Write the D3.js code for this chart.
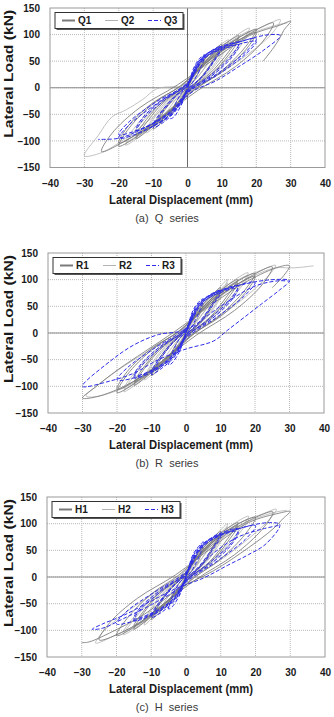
<!DOCTYPE html>
<html>
<head>
<meta charset="utf-8">
<script src="https://cdn.jsdelivr.net/npm/d3@7"></script>
<style>
  body { margin: 0; background: #fff; }
  svg { display: block; font-family: "Liberation Sans", Arial, sans-serif; }
</style>
</head>
<body>
<svg id="chart" width="334" height="717"></svg>
<script>
// axis ticks
const xTicks = [-40, -30, -20, -10, 0, 10, 20, 30, 40]
const yTicks = [-150, -100, -50, 0, 50, 100, 150]

const xTitle = "Lateral Displacement (mm)"
const yTitle = "Lateral Load (kN)"
const captions = ["(a)  Q  series", "(b)  R  series", "(c)  H  series"]
const legendNames = [["Q1", "Q2", "Q3"], ["R1", "R2", "R3"], ["H1", "H2", "H3"]]

// hysteresis curves: [displacement mm, load kN]
const q1 = [[0,0],[1,15],[2,28],[1,14],[0,2],[-1,-14],[-2,-27],[-1,-12],[0,0],
  [2,30],[4,48],[5,55],[4,38],[2,15],[0,-2],[-2,-28],[-4,-45],[-5,-52],[-4,-35],[-2,-14],[0,2],
  [3,38],[7,66],[10,82],[8,58],[5,28],[1,0],[-3,-32],[-7,-62],[-10,-78],[-8,-55],[-5,-28],[-1,0],
  [3,34],[7,60],[10,76],[8,54],[5,26],[1,-1],[-3,-30],[-7,-58],[-10,-72],[-8,-50],[-5,-24],[-1,1],
  [4,42],[10,78],[15,98],[12,68],[7,30],[1,-2],[-4,-38],[-10,-72],[-15,-96],[-12,-66],[-7,-28],[-1,2],
  [4,40],[10,72],[15,92],[12,62],[7,26],[1,-1],[-4,-36],[-10,-68],[-15,-90],[-12,-60],[-7,-25],[-1,2],
  [5,45],[12,82],[20,110],[17,78],[10,32],[2,-4],[-5,-42],[-12,-80],[-20,-110],[-17,-76],[-10,-30],[-2,4],
  [5,44],[12,78],[20,104],[17,72],[10,30],[2,-3],[-5,-40],[-12,-76],[-20,-104],[-17,-70],[-10,-28],[-2,3],
  [6,50],[15,90],[25,122],[22,88],[14,40],[3,-5],[-6,-48],[-15,-88],[-25,-120],[-22,-86],[-14,-38],[-3,5],
  [8,55],[18,98],[27,118],[30,125],[28,108],[27,95],[25,75],[22,50]]
const q2 = [[0,0],[2,25],[3,35],[2,20],[0,3],[-2,-22],[-3,-33],[-2,-18],[0,-2],
  [3,40],[6,60],[8,70],[6,48],[3,20],[0,0],[-3,-30],[-6,-55],[-8,-65],[-6,-45],[-3,-18],[0,2],
  [4,45],[9,78],[12,90],[10,65],[6,30],[1,2],[-4,-38],[-9,-70],[-12,-85],[-10,-60],[-6,-28],[-1,0],
  [4,42],[9,74],[12,86],[10,60],[6,27],[1,1],[-4,-36],[-9,-66],[-12,-80],[-10,-56],[-6,-25],[-1,0],
  [5,50],[12,88],[18,112],[15,80],[9,38],[2,0],[-5,-45],[-12,-82],[-18,-108],[-15,-78],[-9,-36],[-2,0],
  [5,48],[12,84],[18,106],[15,75],[9,34],[2,-1],[-5,-42],[-12,-78],[-18,-102],[-15,-72],[-9,-32],[-2,1],
  [6,55],[15,95],[22,115],[27,128],[25,105],[20,75],[12,38],[4,5],[-3,-20],[-10,-55],[-18,-95],[-25,-122],[-30,-128],
  [-26,-90],[-22,-55],[-18,-42],[-13,-22],[-9,-2],[-4,2],[0,3],
  [8,58],[18,100],[26,118],[29,122]]
const q3 = [[0,0],[1,20],[2,35],[1,15],[0,0],[-1,-20],[-2,-33],[-1,-15],[0,0],
  [2,40],[4,58],[5,62],[4,40],[2,15],[0,-5],[-2,-35],[-4,-55],[-5,-58],[-4,-38],[-2,-12],[0,5],
  [3,48],[7,70],[10,78],[8,55],[4,20],[0,-5],[-3,-40],[-7,-65],[-10,-75],[-8,-52],[-4,-20],[0,5],
  [3,45],[7,66],[10,74],[8,52],[4,18],[0,-4],[-3,-38],[-7,-62],[-10,-70],[-8,-48],[-4,-18],[0,4],
  [4,55],[10,78],[15,85],[13,62],[7,25],[0,-8],[-4,-45],[-10,-72],[-15,-85],[-13,-60],[-7,-25],[0,8],
  [4,52],[10,74],[15,80],[13,58],[7,22],[0,-6],[-4,-42],[-10,-68],[-15,-80],[-13,-56],[-7,-22],[0,6],
  [5,60],[13,82],[20,92],[17,68],[9,28],[0,-10],[-5,-50],[-13,-82],[-20,-95],[-17,-70],[-9,-30],[0,10],
  [5,56],[13,78],[20,87],[17,64],[9,25],[0,-8],[-5,-46],[-13,-76],[-20,-88],[-17,-64],[-9,-26],[0,8],
  [6,65],[16,88],[24,100],[27,98],[22,70],[15,40],[8,12],[2,-5],[-5,-45],[-14,-80],[-20,-95],[-26,-97]]

const r1 = [[0,0],[1,16],[2,30],[1,14],[0,0],[-1,-15],[-2,-28],[-1,-12],[0,2],
  [2,32],[4,50],[5,56],[4,36],[2,14],[0,-3],[-2,-28],[-4,-46],[-5,-52],[-4,-34],[-2,-12],[0,3],
  [3,38],[7,68],[10,85],[8,60],[5,28],[1,0],[-3,-32],[-7,-62],[-10,-80],[-8,-55],[-5,-27],[-1,0],
  [3,35],[7,62],[10,78],[8,55],[5,25],[1,-1],[-3,-30],[-7,-58],[-10,-74],[-8,-50],[-5,-24],[-1,1],
  [4,42],[10,80],[15,100],[12,70],[7,30],[1,-2],[-4,-38],[-10,-74],[-15,-98],[-12,-66],[-7,-28],[-1,2],
  [4,40],[10,74],[15,94],[12,64],[7,27],[1,-1],[-4,-35],[-10,-70],[-15,-92],[-12,-62],[-7,-25],[-1,2],
  [5,46],[12,85],[20,112],[17,80],[10,34],[2,-3],[-5,-44],[-12,-82],[-20,-112],[-17,-78],[-10,-32],[-2,4],
  [5,44],[12,80],[20,106],[17,74],[10,31],[2,-2],[-5,-42],[-12,-78],[-20,-106],[-17,-72],[-10,-29],[-2,3],
  [6,50],[15,92],[25,124],[22,90],[14,42],[3,-4],[-6,-48],[-15,-90],[-25,-118],[-30,-122],[-26,-100],[-20,-70],[-12,-35],[-3,4],
  [8,56],[18,98],[27,124],[30,126],[28,105],[25,85]]
const r2 = [[0,0],[2,24],[3,34],[2,20],[0,3],[-2,-22],[-3,-32],[-2,-18],[0,-2],
  [3,40],[6,60],[8,70],[6,48],[3,20],[0,0],[-3,-30],[-6,-55],[-8,-66],[-6,-45],[-3,-18],[0,2],
  [4,45],[9,80],[12,100],[10,70],[6,32],[1,2],[-4,-38],[-9,-72],[-12,-88],[-10,-62],[-6,-28],[-1,0],
  [4,42],[9,75],[12,94],[10,66],[6,29],[1,1],[-4,-35],[-9,-68],[-12,-84],[-10,-58],[-6,-25],[-1,0],
  [5,50],[12,90],[18,113],[15,82],[9,40],[2,0],[-5,-46],[-12,-84],[-18,-110],[-15,-80],[-9,-36],[-2,0],
  [5,48],[12,86],[18,108],[15,78],[9,36],[2,-1],[-5,-43],[-12,-80],[-18,-105],[-15,-75],[-9,-33],[-2,1],
  [6,55],[15,98],[22,118],[26,127],[24,108],[18,72],[10,32],[3,2],[-5,-42],[-13,-85],[-20,-108],[-27,-120],[-29,-118],
  [-25,-95],[-18,-62],[-10,-30],[-3,-2],[0,3],
  [8,58],[18,102],[26,122],[30,122],[33,123],[37,126]]
const r3 = [[0,0],[1,22],[2,38],[1,16],[0,2],[-1,-20],[-2,-35],[-1,-14],[0,0],
  [2,42],[4,60],[5,64],[4,42],[2,16],[0,-4],[-2,-36],[-4,-56],[-5,-60],[-4,-38],[-2,-12],[0,5],
  [3,50],[7,72],[10,80],[8,58],[4,22],[0,-5],[-3,-42],[-7,-66],[-10,-78],[-8,-54],[-4,-20],[0,6],
  [3,46],[7,68],[10,75],[8,54],[4,19],[0,-4],[-3,-40],[-7,-62],[-10,-72],[-8,-50],[-4,-18],[0,5],
  [4,56],[10,80],[15,88],[13,64],[7,28],[0,-8],[-4,-46],[-10,-74],[-15,-84],[-13,-62],[-7,-26],[0,8],
  [4,53],[10,76],[15,83],[13,60],[7,24],[0,-6],[-4,-43],[-10,-70],[-15,-80],[-13,-58],[-7,-23],[0,6],
  [5,62],[13,85],[20,95],[17,70],[9,30],[0,-10],[-5,-50],[-13,-80],[-20,-88],[-17,-65],[-9,-28],[0,10],
  [6,66],[16,90],[25,100],[30,98],[27,80],[22,55],[17,30],[12,5],[8,-15],[0,-30],[-8,-50],[-15,-75],[-22,-90],[-30,-100],
  [-22,-53],[-15,-22],[-8,-3],[0,6],[10,50],[20,88],[27,98],[30,97]]

const h1 = [[0,0],[1,16],[2,30],[1,14],[0,0],[-1,-15],[-2,-28],[-1,-12],[0,2],
  [2,32],[4,50],[5,56],[4,36],[2,14],[0,-3],[-2,-28],[-4,-46],[-5,-52],[-4,-34],[-2,-12],[0,3],
  [3,40],[7,68],[10,86],[8,60],[5,28],[1,0],[-3,-32],[-7,-62],[-10,-80],[-8,-55],[-5,-27],[-1,0],
  [3,36],[7,63],[10,80],[8,56],[5,25],[1,-1],[-3,-30],[-7,-58],[-10,-75],[-8,-51],[-5,-24],[-1,1],
  [4,44],[10,82],[15,102],[12,72],[7,30],[1,-2],[-4,-38],[-10,-74],[-15,-98],[-12,-66],[-7,-28],[-1,2],
  [4,41],[10,77],[15,96],[12,66],[7,27],[1,-1],[-4,-36],[-10,-70],[-15,-92],[-12,-62],[-7,-25],[-1,2],
  [5,48],[12,88],[20,112],[17,80],[10,34],[2,-3],[-5,-44],[-12,-82],[-20,-110],[-17,-78],[-10,-32],[-2,4],
  [6,52],[15,95],[25,122],[22,90],[14,42],[3,-4],[-6,-48],[-15,-92],[-25,-118],[-22,-86],[-14,-40],[-3,4],
  [8,58],[18,102],[27,120],[30,123],[28,110],[25,90],[18,55],[8,12],[-2,-22],[-12,-70],[-22,-105],[-28,-122],[-30,-123]]
const h2 = [[0,0],[2,24],[3,34],[2,20],[0,3],[-2,-22],[-3,-32],[-2,-18],[0,-2],
  [3,40],[6,62],[8,72],[6,50],[3,20],[0,0],[-3,-30],[-6,-55],[-8,-65],[-6,-45],[-3,-18],[0,2],
  [4,46],[9,82],[12,100],[10,72],[6,32],[1,2],[-4,-38],[-9,-72],[-12,-90],[-10,-62],[-6,-28],[-1,0],
  [4,43],[9,77],[12,94],[10,67],[6,29],[1,1],[-4,-35],[-9,-68],[-12,-85],[-10,-58],[-6,-25],[-1,0],
  [5,52],[12,92],[18,114],[15,84],[9,40],[2,0],[-5,-46],[-12,-84],[-18,-108],[-15,-80],[-9,-36],[-2,0],
  [5,49],[12,87],[18,108],[15,79],[9,36],[2,-1],[-5,-43],[-12,-80],[-18,-103],[-15,-75],[-9,-33],[-2,1],
  [6,56],[15,100],[22,118],[26,127],[24,108],[18,72],[10,32],[3,2],[-5,-42],[-13,-85],[-20,-108],[-26,-124],
  [-24,-104],[-18,-70],[-10,-34],[-3,-4],[0,2],
  [8,60],[18,104],[26,122],[29,125]]
const h3 = [[0,0],[1,22],[2,38],[1,16],[0,2],[-1,-20],[-2,-35],[-1,-14],[0,0],
  [2,42],[4,60],[5,66],[4,42],[2,16],[0,-4],[-2,-36],[-4,-56],[-5,-60],[-4,-38],[-2,-12],[0,5],
  [3,50],[7,72],[10,82],[8,58],[4,22],[0,-5],[-3,-42],[-7,-66],[-10,-76],[-8,-54],[-4,-20],[0,6],
  [3,46],[7,68],[10,77],[8,54],[4,19],[0,-4],[-3,-40],[-7,-62],[-10,-71],[-8,-50],[-4,-18],[0,5],
  [4,56],[10,82],[15,90],[13,64],[7,28],[0,-8],[-4,-46],[-10,-72],[-15,-82],[-13,-60],[-7,-26],[0,8],
  [4,53],[10,78],[15,85],[13,60],[7,24],[0,-6],[-4,-43],[-10,-68],[-15,-78],[-13,-56],[-7,-23],[0,6],
  [5,62],[13,86],[20,96],[17,70],[9,30],[0,-10],[-5,-50],[-13,-78],[-20,-88],[-17,-64],[-9,-28],[0,10],
  [6,66],[16,92],[24,102],[27,98],[23,62],[18,42],[12,22],[5,-2],[-3,-22],[-10,-45],[-18,-72],[-24,-88],[-27,-98],
  [-24,-96],[-18,-78],[-10,-52],[-3,-25],[2,5],[8,45],[15,75],[22,90],[27,97]]

var panels = [
  { left: 50, right: 325, top: 8, bottom: 167.5, zeroX: true, series: [q1, q2, q3] },
  { left: 48, right: 324, top: 253, bottom: 413, zeroX: false, series: [r1, r2, r3] },
  { left: 47, right: 325, top: 497, bottom: 657, zeroX: false, series: [h1, h2, h3] }
]

// line looks for specimen 1, 2, 3
var styles = [
  { stroke: "#7a7a7a", width: 0.85, dash: null, legendWidth: 2 },
  { stroke: "#b2b2b2", width: 0.8, dash: null, legendWidth: 1 },
  { stroke: "#2e2ee8", width: 1, dash: "4,2", legendWidth: 1.2 }
]
var drawOrder = [1, 0, 2]

var svg = d3.select("#chart")

panels.forEach((p, k) => {

  var xScale = d3.scaleLinear().domain([-40, 40]).range([p.left, p.right])
  var yScale = d3.scaleLinear().domain([-150, 150]).range([p.bottom, p.top])

  var g = svg.append("g")

  // dotted grid
  g.selectAll(".vgrid")
   .data(xTicks.slice(1, -1))
   .enter()
   .append("line")
   .attr("x1", d => xScale(d))
   .attr("x2", d => xScale(d))
   .attr("y1", p.top)
   .attr("y2", p.bottom)
   .attr("stroke", "#b8b8b8")
   .attr("stroke-dasharray", "1,1")

  g.selectAll(".hgrid")
   .data(yTicks.slice(1, -1))
   .enter()
   .append("line")
   .attr("x1", p.left)
   .attr("x2", p.right)
   .attr("y1", d => yScale(d))
   .attr("y2", d => yScale(d))
   .attr("stroke", "#b8b8b8")
   .attr("stroke-dasharray", "1,1")

  // zero lines
  g.append("line")
   .attr("x1", p.left).attr("x2", p.right)
   .attr("y1", yScale(0)).attr("y2", yScale(0))
   .attr("stroke", "#8c8c8c")
  if (p.zeroX) {
    g.append("line")
     .attr("x1", xScale(0)).attr("x2", xScale(0))
     .attr("y1", p.top).attr("y2", p.bottom)
     .attr("stroke", "#6a6a6a")
  }

  var lineGen = d3.line()
                  .x(d => xScale(d[0]))
                  .y(d => yScale(d[1]))
                  .curve(d3.curveCatmullRom.alpha(0.5))

  drawOrder.forEach(i => {
    g.append("path")
     .datum(p.series[i])
     .attr("d", lineGen)
     .attr("fill", "none")
     .attr("stroke", styles[i].stroke)
     .attr("stroke-width", styles[i].width)
     .attr("stroke-dasharray", styles[i].dash)
  })

  // plot border
  g.append("rect")
   .attr("x", p.left).attr("y", p.top)
   .attr("width", p.right - p.left)
   .attr("height", p.bottom - p.top)
   .attr("fill", "none")
   .attr("stroke", "#9a9a9a")

  // axes (labels only)
  var xAxis = g.append("g")
               .attr("transform", `translate(0, ${p.bottom})`)
               .call(d3.axisBottom(xScale).tickValues(xTicks).tickSize(0).tickPadding(12))
  var yAxis = g.append("g")
               .attr("transform", `translate(${p.left}, 0)`)
               .call(d3.axisLeft(yScale).tickValues(yTicks).tickSize(0).tickPadding(10))
  ;[xAxis, yAxis].forEach(a => {
    a.select(".domain").remove()
    a.selectAll("text")
     .attr("fill", "#1a1a1a")
     .style("font-size", "10px")
     .style("font-weight", "bold")
     .style("font-family", "'Liberation Sans', Arial, sans-serif")
  })

  g.append("text")
   .attr("x", 181)
   .attr("y", p.bottom + 36)
   .attr("text-anchor", "middle")
   .attr("textLength", 144)
   .attr("lengthAdjust", "spacingAndGlyphs")
   .attr("fill", "#1a1a1a")
   .style("font-size", "12px")
   .style("font-weight", "bold")
   .text(xTitle)

  var yMid = (p.top + p.bottom) / 2 - 14
  g.append("text")
   .attr("transform", `translate(12.5, ${yMid}) rotate(-90)`)
   .attr("text-anchor", "middle")
   .attr("textLength", 128)
   .attr("lengthAdjust", "spacingAndGlyphs")
   .attr("fill", "#1a1a1a")
   .style("font-size", "12.5px")
   .style("font-weight", "bold")
   .text(yTitle)

  g.append("text")
   .attr("x", 167)
   .attr("y", p.bottom + 54)
   .attr("text-anchor", "middle")
   .attr("fill", "#3a3a3a")
   .style("font-size", "11px")
   .style("white-space", "pre")
   .text(captions[k])

  // legend box with shadow
  var lx = p.left + 5, ly = p.top + 4.5
  var legend = g.append("g").attr("transform", `translate(${lx}, ${ly})`)
  legend.append("rect")
        .attr("x", 1.5).attr("y", 1.5)
        .attr("width", 128).attr("height", 16)
        .attr("fill", "#555")
  legend.append("rect")
        .attr("width", 128).attr("height", 16)
        .attr("fill", "#fff")
        .attr("stroke", "#333")

  legendNames[k].forEach((name, i) => {
    legend.append("line")
          .attr("x1", 7 + i * 43).attr("x2", 20 + i * 43)
          .attr("y1", 8).attr("y2", 8)
          .attr("stroke", styles[i].stroke)
          .attr("stroke-width", styles[i].legendWidth)
          .attr("stroke-dasharray", styles[i].dash)
    legend.append("text")
          .attr("x", 23 + i * 43)
          .attr("y", 11.7)
          .attr("fill", "#1a1a1a")
          .style("font-size", "10px")
          .style("font-weight", "bold")
          .text(name)
  })
})
</script>
</body>
</html>
